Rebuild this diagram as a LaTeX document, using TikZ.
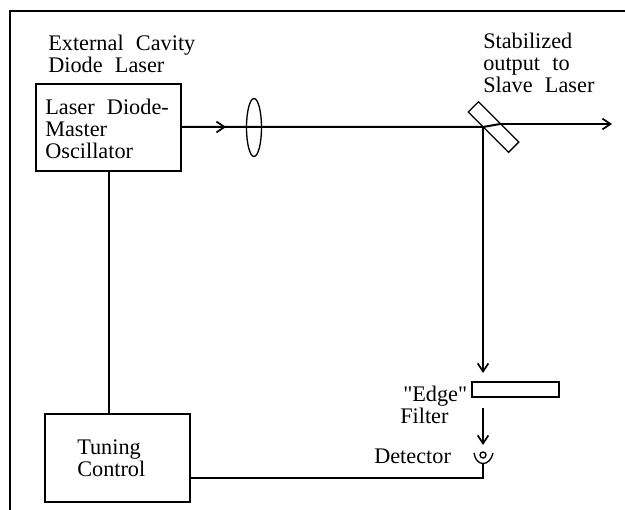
\documentclass[tikz,border=0pt]{standalone}
\usepackage{fontspec}
\setmainfont{Liberation Serif}[Ligatures=TeXOff]
\usetikzlibrary{positioning,arrows.meta,shapes.geometric}
\newcommand{\labelfont}{\fontsize{16.7}{16.5}\selectfont\spaceskip=.55em\relax}
\tikzset{
  boxnode/.style={draw, line width=1pt, inner sep=0pt},
  labeltext/.style={align=left, font=\labelfont, inner sep=0pt, anchor=north west},
  beam/.style={line width=1.5pt},
  tip/.style={-{Straight Barb[length=6pt,width=8pt,line width=1.3pt]}}
}
\begin{document}
\begin{tikzpicture}[x=0.75pt, y=-0.75pt]
	\useasboundingbox (0,0) rectangle (625,510);
	% frame
	\draw[line width=1.8pt] (10,510) -- (10,11) -- (625,11);

	% boxes
	\node[boxnode, minimum width=145*0.75pt, minimum height=87*0.75pt] (master) at (108.5,127.5) {};
	\node[boxnode, minimum width=145*0.75pt, minimum height=88*0.75pt] (tuning) at (117.5,458) {};
	\node[boxnode, minimum width=87*0.75pt, minimum height=15*0.75pt] (edge) at (515.5,389.5) {};

	% lens and mirror
	\node[draw, line width=1pt, ellipse, minimum width=15*0.75pt, minimum height=58*0.75pt, inner sep=0pt] (lens) at (254,127.5) {};
	\node[draw, line width=1pt, rotate=-45, minimum width=57*0.75pt, minimum height=14.5*0.75pt, inner sep=0pt] (mirror) at (493.5,127) {};

	% detector
	\node[draw, line width=1pt, circle, minimum size=6*0.75pt, inner sep=0pt] (detector) at (483,455) {};
	\coordinate (cupleft) at (474,453);
	\coordinate (cupright) at (493,453);
	\coordinate (cupbottom) at (483,464);
	\draw[line width=1pt] (cupleft) .. controls (476,467) and (490,467) .. (cupright);

	% beams
	\coordinate (beamin) at (181,127);
	\coordinate (beamturn) at (483,127);
	\coordinate (beamexit) at (500,124);
	\coordinate (beamend) at (612,124);
	\coordinate (filterin) at (483,373);
	\coordinate (filterout) at (483,408);
	\coordinate (detectorin) at (483,445);
	\coordinate (corner) at (483,478);
	\draw[beam] (beamin) -- (beamturn) -- (beamexit);
	\draw[beam, tip] (beamin) -- (226,127);
	\draw[beam, tip] (beamexit) -- (beamend);
	\draw[beam, tip] (beamturn) -- (filterin);
	\draw[beam, tip] (filterout) -- (detectorin);
	\draw[beam] (master) -- (master |- tuning.north);
	\draw[beam] (tuning.east |- corner) -- (corner) -- (cupbottom);

	% labels
	\node[labeltext] (cavitylabel) at (48,35) {External Cavity\\Diode Laser};
	\node[labeltext] (laserlabel) at (45,99) {Laser Diode-\\Master\\Oscillator};
	\node[labeltext] (tuninglabel) at (77,439) {Tuning\\Control};
	\node[labeltext] (outputlabel) at (483,33) {Stabilized\\output to\\Slave Laser};
	\node[labeltext] (edgelabel) at (403,386) {"Edge"};
	\node[labeltext] (filterlabel) at (400,408) {Filter};
	\node[labeltext] (detectorlabel) at (374,449) {Detector};
\end{tikzpicture}
\end{document}
